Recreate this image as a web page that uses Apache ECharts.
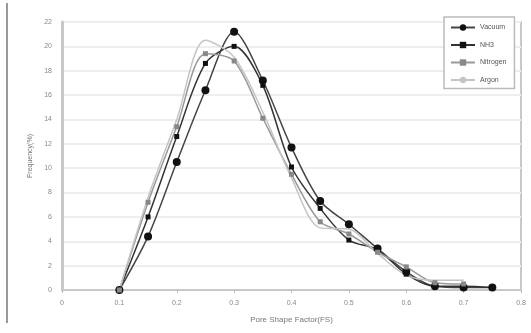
<!DOCTYPE html>
<html>
<head>
<meta charset="utf-8">
<script src="https://cdn.jsdelivr.net/npm/echarts@6/dist/echarts.min.js"></script>
<style>
  html, body { margin: 0; padding: 0; background: #fff; }
  #main { width: 531px; height: 333px; }
</style>
</head>
<body>
<div id="main"></div>
<script>
// x positions (pore shape factor)
var fsValues = [0.1, 0.15, 0.2, 0.25, 0.3, 0.35, 0.4, 0.45, 0.5, 0.55, 0.6, 0.65, 0.7, 0.75];
var seriesNames = ['Vacuum', 'NH3', 'Nitrogen', 'Argon'];
var vacuum   = [0, 4.4, 10.5, 16.4, 21.2, 17.2, 11.7, 7.3, 5.4, 3.4, 1.5, 0.3, 0.2, 0.2];
var nh3      = [0, 6.0, 12.6, 18.6, 20.0, 16.8, 10.1, 6.7, 4.1, 3.3, 1.3, 0.3, 0.3, 0.2];
var nitrogen = [0, 7.2, 13.4, 19.4, 18.8, 14.1, 9.5, 5.6, 4.6, 3.1, 1.9, 0.6, 0.5];
var argon    = [0, 7.6, 14.0, 20.5, 19.1, 14.6, 9.2, 5.1, 5.0, 3.0, 1.2, 0.8, 0.8];

var chart = echarts.init(document.getElementById('main'));

function pairs(ys) {
    var out = [];
    for (var i = 0; i < ys.length; i++) {
        out.push([fsValues[i], ys[i]]);
    }
    return out;
}

var option = {
    animation: false,
    textStyle: { fontFamily: 'Liberation Sans, Arial, sans-serif' },
    graphic: [{
        type: 'line',
        shape: { x1: 7, y1: 3, x2: 7, y2: 323 },
        style: { stroke: '#999', lineWidth: 2 }
    }],
    grid: { left: 62, right: 10, top: 22, bottom: 43, show: true, borderColor: '#c8c8c8', borderWidth: 2 },
    legend: {
        orient: 'vertical',
        left: 444, top: 17,
        width: 84,
        padding: [7, 8, 5, 6],
        itemGap: 10.5,
        itemWidth: 24, itemHeight: 8,
        borderColor: '#bbb', borderWidth: 1.5,
        backgroundColor: '#fff',
        textStyle: { fontSize: 7, color: '#555' },
        data: seriesNames
    },
    xAxis: {
        type: 'value',
        min: 0, max: 0.8, interval: 0.1,
        name: 'Pore Shape Factor(FS)',
        nameLocation: 'middle', nameGap: 26,
        nameTextStyle: { fontSize: 8, color: '#777' },
        axisLine: { lineStyle: { color: '#c8c8c8', width: 2 } },
        axisTick: { show: true, length: 3, lineStyle: { color: '#bbb' } },
        axisLabel: { fontSize: 7, color: '#888', margin: 10,
            formatter: function (v) { return v === 0 ? '0' : v.toFixed(1); } },
        splitLine: { show: false }
    },
    yAxis: {
        type: 'value',
        min: 0, max: 22, interval: 2,
        name: 'Frequency(%)',
        nameLocation: 'middle', nameGap: 28,
        nameTextStyle: { fontSize: 7, color: '#777' },
        axisLine: { show: true, lineStyle: { color: '#c8c8c8', width: 3 } },
        axisTick: { show: false },
        axisLabel: { fontSize: 7, color: '#888', margin: 10 },
        splitLine: { lineStyle: { color: '#eeeeee', width: 2 } }
    },
    series: [
        {
            name: 'Vacuum', type: 'line', smooth: 0.3, data: pairs(vacuum),
            symbol: 'circle', symbolSize: 8,
            lineStyle: { color: '#444', width: 1.5 },
            itemStyle: { color: '#111' }
        },
        {
            name: 'NH3', type: 'line', smooth: 0.3, data: pairs(nh3),
            symbol: 'rect', symbolSize: 5,
            lineStyle: { color: '#333', width: 1.5 },
            itemStyle: { color: '#111' }
        },
        {
            name: 'Nitrogen', type: 'line', smooth: 0.3, data: pairs(nitrogen),
            symbol: 'rect', symbolSize: 5,
            lineStyle: { color: '#999', width: 1.5 },
            itemStyle: { color: '#888' }
        },
        {
            name: 'Argon', type: 'line', smooth: 0.3, data: pairs(argon),
            symbol: 'none',
            lineStyle: { color: '#c4c4c4', width: 1.5 },
            itemStyle: { color: '#c4c4c4' }
        }
    ]
};

chart.setOption(option);
</script>
</body>
</html>
